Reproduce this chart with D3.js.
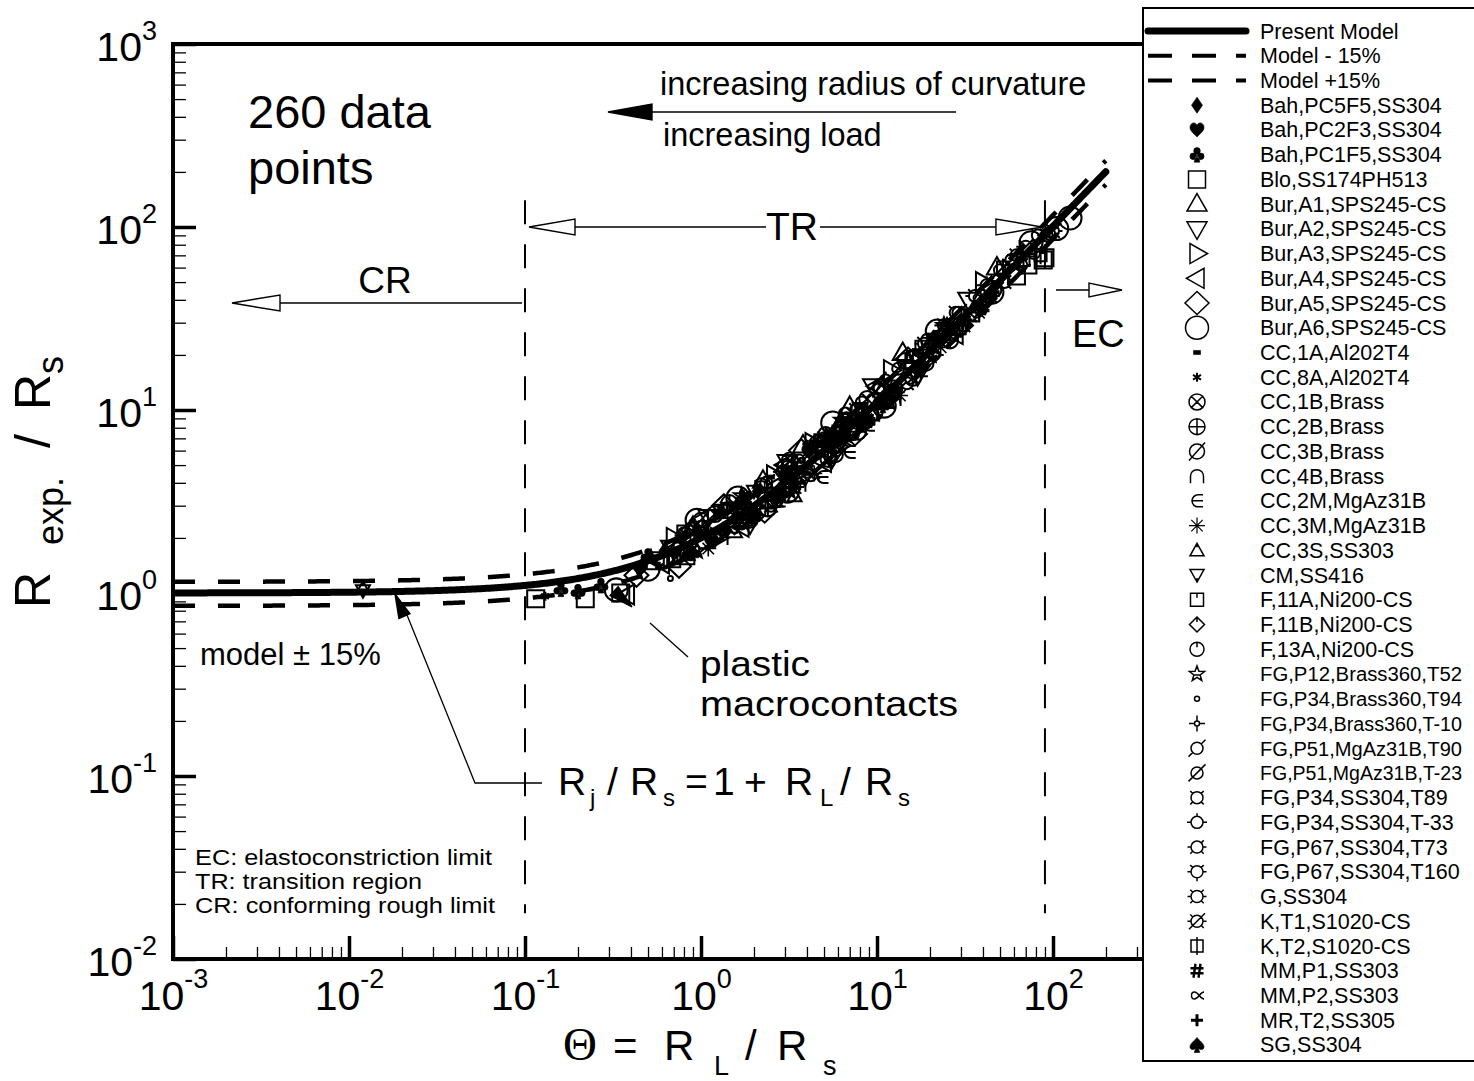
<!DOCTYPE html>
<html>
<head>
<meta charset="utf-8">
<script src="https://cdn.jsdelivr.net/npm/d3@7"></script>
<style>
  body { margin: 0; background: #fff; }
  svg { display: block; }
  text { font-family: "Liberation Sans", Arial, Helvetica, sans-serif; fill: #000; }
</style>
</head>
<body>
<svg id="chart" width="1474" height="1081"></svg>
<script>
// ---- Data: measured R_exp/R_s against Theta = R_L/R_s for each data set ----
const seriesNames = [
  "Bah,PC5F5,SS304", "Bah,PC2F3,SS304", "Bah,PC1F5,SS304", "Blo,SS174PH513",
  "Bur,A1,SPS245-CS", "Bur,A2,SPS245-CS", "Bur,A3,SPS245-CS", "Bur,A4,SPS245-CS",
  "Bur,A5,SPS245-CS", "Bur,A6,SPS245-CS", "CC,1A,Al202T4", "CC,8A,Al202T4",
  "CC,1B,Brass", "CC,2B,Brass", "CC,3B,Brass", "CC,4B,Brass",
  "CC,2M,MgAz31B", "CC,3M,MgAz31B", "CC,3S,SS303", "CM,SS416",
  "F,11A,Ni200-CS", "F,11B,Ni200-CS", "F,13A,Ni200-CS", "FG,P12,Brass360,T52",
  "FG,P34,Brass360,T94", "FG,P34,Brass360,T-10", "FG,P51,MgAz31B,T90", "FG,P51,MgAz31B,T-23",
  "FG,P34,SS304,T89", "FG,P34,SS304,T-33", "FG,P67,SS304,T73", "FG,P67,SS304,T160",
  "G,SS304", "K,T1,S1020-CS", "K,T2,S1020-CS", "MM,P1,SS303",
  "MM,P2,SS303", "MR,T2,SS305", "SG,SS304"
];

// [Theta, R_exp/R_s]
const seriesData = [
  [[0.62,1.7],[0.95,2.2],[1.4,2.2],[2.1,3.6],[3.3,4.0],[5.2,7.2],[8.4,8.6]],
  [[0.45,1.35],[0.78,2.0],[1.15,1.9],[1.8,3.3],[2.7,3.3],[4.1,5.9],[6.5,6.9]],
  [[0.16,1.05],[0.2,1.02],[0.27,1.1],[0.5,1.6],[0.85,1.65],[1.3,2.8],[2.0,2.6]],
  [[0.115,0.93],[0.22,0.93],[0.35,1.0],[0.55,1.5],[0.82,1.6],[0.82,2.1],[62,54],[72,62],[88,66],[90,68]],
  [[0.9,2.3],[1.5,2.2],[2.25,4.1],[3.8,6.4],[7.0,10.4],[14,20.5],[25,28],[48,60]],
  [[1.1,2.6],[1.9,2.4],[3.1,5.2],[5.5,5.4],[9.5,13.5],[17,15.5],[33,40]],
  [[0.7,2.0],[1.25,2.0],[2.6,4.4],[4.3,6.6],[6.2,6.4],[12,16.5],[20,20],[40,50]],
  [[0.38,0.98],[0.6,1.45],[1.0,2.5],[1.7,2.3],[3.0,5.0],[5.0,5.2],[10,13.5],[28,26]],
  [[0.43,1.25],[0.75,1.4],[1.35,3.0],[2.3,2.8],[3.7,6.0],[7.5,7.4],[15,19],[30,29]],
  [[0.33,1.04],[0.5,1.35],[0.95,2.5],[1.62,3.3],[3.1,3.6],[5.6,8.5],[11,10.5],[22,27],[45,44],[75,82],[105,98],[125,112]],
  [[0.9,2.1],[1.6,2.3],[2.5,4.3],[4.0,4.5],[6.8,9.0],[13,12.5]],
  [[0.13,0.96],[0.58,1.4],[1.1,2.15],[2.0,2.8],[3.5,4.8],[6.0,6.6]],
  [[1.2,2.7],[2.1,2.8],[3.2,5.3],[5.3,5.4],[8.8,11.5],[16,15]],
  [[0.7,1.75],[1.45,3.1],[2.4,2.9],[4.6,6.6],[7.8,7.6],[14.5,18.5],[26,24]],
  [[1.0,2.5],[1.9,2.5],[3.0,4.9],[5.8,5.7],[10.5,13.5],[19,18]],
  [[0.8,2.1],[1.3,2.0],[2.2,3.9],[3.6,3.9],[6.6,9.5],[12.5,11.5]],
  [[1.5,2.3],[2.8,3.2],[4.9,4.3],[7.0,5.9],[9.0,8.3],[18,16.5]],
  [[1.1,1.75],[2.3,3.7],[4.4,4.5],[7.2,9.6],[13.5,12],[23,22],[38,34]],
  [[0.012,1.06],[0.9,2.3],[1.8,2.5],[3.4,3.4],[6.1,8.6],[11.5,11]],
  [[0.012,1.03],[0.65,1.8],[1.2,1.95],[2.0,3.6],[3.9,4.2],[8.0,10.2]],
  [[0.7,1.5],[1.3,2.8],[2.6,3.2],[4.8,6.8],[9.2,9.5],[18,22],[35,33]],
  [[0.85,2.2],[1.55,2.3],[2.9,4.6],[5.9,6.0],[10.2,13.2],[21,20]],
  [[0.75,1.6],[1.4,2.8],[2.75,3.4],[5.1,7.4],[9.8,9.6],[19.5,24],[37,35]],
  [[0.52,1.55],[0.95,1.7],[1.7,3.4],[3.2,3.6],[6.3,8.8],[11.8,11],[24,29]],
  [[0.67,1.2],[1.05,2.4],[1.9,2.6],[3.7,5.3],[7.4,7.1],[14,17.5]],
  [[0.95,1.75],[1.75,3.3],[3.3,3.8],[6.4,8.6],[12,11.6],[23,27]],
  [[1.2,2.0],[2.35,4.0],[4.2,4.4],[8.2,11],[15.5,15],[29,34],[47,45]],
  [[1.0,2.3],[2.0,2.7],[3.6,5.3],[7.3,7.4],[13.2,16.8],[26,25],[50,58]],
  [[2.2,3.8],[4.0,4.6],[7.6,10],[14.8,14],[28,34],[53,50],[82,90]],
  [[1.7,2.4],[3.1,4.9],[6.0,6.4],[11.2,14.5],[21,20],[42,48],[78,72]],
  [[2.5,3.0],[4.7,6.8],[8.6,8.8],[16.5,20],[31,29],[58,66],[95,92]],
  [[2.9,4.6],[5.4,5.6],[10.3,13],[19.5,19],[36,42],[66,62],[92,90]],
  [[1.4,2.9],[2.7,3.2],[5.0,7.0],[9.5,9.4],[18.5,23],[34,33],[62,70]],
  [[3.4,3.8],[6.7,9.0],[12.7,12.5],[24,29],[44,42],[70,78],[100,95]],
  [[4.5,6.3],[8.3,8.6],[16,19.5],[29.5,28],[52,60],[68,66],[85,70]],
  [[1.65,2.6],[3.0,4.3],[4.1,6.3],[6.0,7.9],[9.0,8.7],[17.5,17],[32,30],[40,36]],
  [[2.8,3.5],[5.7,6.3],[10.8,11.2],[20,19],[38,41],[60,60]],
  [[1.8,3.1],[3.5,4.0],[6.9,8.9],[13,13],[25,29],[46,44]],
  [[0.9,1.65],[1.6,3.0],[2.9,3.5],[5.6,7.5],[10.8,10.6],[21,25],[44,42]]
];

// Model R_j/R_s = 1 + R_L/R_s and its +/-15% band
const modelNames = ["Present Model", "Model - 15%", "Model +15%"];
const modelFactors = [1, 0.85, 1.15];
const thetaRange = [1e-3, 200];
const limitTheta = { TR: 0.1, EC: 90 };

// ---- Scales ----
const svg = d3.select("#chart");
const x = d3.scaleLog().domain([1e-3, 1e3]).range([173, 1229]);
const y = d3.scaleLog().domain([1e-2, 1e3]).range([959, 44]);
const FONT = '"Liberation Sans", Arial, Helvetica, sans-serif';

// ---- Marker shapes ----
const circ = (r, cx = 0, cy = 0) =>
  `M${cx + r},${cy}A${r},${r} 0 1,1 ${cx - r},${cy}A${r},${r} 0 1,1 ${cx + r},${cy}Z`;
const seg = (x1, y1, x2, y2) => `M${x1},${y1}L${x2},${y2}`;
const ray = (r1, r2, deg) => {
  const a = deg * Math.PI / 180;
  return seg(r1 * Math.cos(a), -r1 * Math.sin(a), r2 * Math.cos(a), -r2 * Math.sin(a));
};
const rays = (r1, r2, degs) => degs.map(d => ray(r1, r2, d)).join("");
const star5 = (ro, ri) => {
  let p = "";
  for (let k = 0; k < 10; k++) {
    const a = (-90 + k * 36) * Math.PI / 180, r = k % 2 ? ri : ro;
    p += (k ? "L" : "M") + (r * Math.cos(a)).toFixed(2) + "," + (r * Math.sin(a)).toFixed(2);
  }
  return p + "Z";
};

const markers = [
  { d: "M0,-8L5.5,0L0,8L-5.5,0Z", fill: true },
  { d: "M0,7C-2,4.5 -7,1.5 -7,-2.5C-7,-5.5 -5,-7 -3.2,-7C-1.6,-7 -0.5,-6 0,-4.5C0.5,-6 1.6,-7 3.2,-7C5,-7 7,-5.5 7,-2.5C7,1.5 2,4.5 0,7Z", fill: true },
  { d: circ(3.3, 0, -3.8) + circ(3.3, -3.8, 1.7) + circ(3.3, 3.8, 1.7) + "M-0.8,0L-2.8,7.5L2.8,7.5L0.8,0Z", fill: true },
  { d: "M-8.5,-8.5H8.5V8.5H-8.5Z" },
  { d: "M0,-10.5L10,7L-10,7Z" },
  { d: "M0,10.5L10,-7L-10,-7Z" },
  { d: "M10.5,0L-7,10L-7,-10Z" },
  { d: "M-10.5,0L7,10L7,-10Z" },
  { d: "M0,-11.5L12,0L0,11.5L-12,0Z" },
  { d: circ(11.5) },
  { d: "M-3.5,-2H3.5V2H-3.5Z", fill: true },
  { d: seg(0, -4.5, 0, 4.5) + seg(-4, -2.3, 4, 2.3) + seg(-4, 2.3, 4, -2.3), sw: 2 },
  { d: circ(8) + seg(-5.7, -5.7, 5.7, 5.7) + seg(-5.7, 5.7, 5.7, -5.7) },
  { d: circ(8) + seg(-8, 0, 8, 0) + seg(0, -8, 0, 8) },
  { d: circ(7.5) + seg(-8, 9, 8, -9) },
  { d: "M-6.5,7V0A6.5,6.5 0 0,1 6.5,0V7" },
  { d: "M6,-6H1A6,6 0 0,0 1,6H6M-5,0H6" },
  { d: seg(0, -8, 0, 8) + seg(-8, 0, 8, 0) + seg(-5.7, -5.7, 5.7, 5.7) + seg(-5.7, 5.7, 5.7, -5.7), sw: 1.2 },
  { d: "M0,-7L7,5.5L-7,5.5Z" + seg(0, -7, 0, -3) },
  { d: "M0,7L7,-5.5L-7,-5.5Z" + seg(0, 7, 0, 3) },
  { d: "M-6.5,-6.5H6.5V6.5H-6.5Z" + seg(0, -6.5, 0, -2) },
  { d: "M0,-7.5L7.5,0L0,7.5L-7.5,0Z" + seg(0, -7.5, 0, -2.5) },
  { d: circ(7) + seg(0, -7, 0, -2) },
  { d: star5(8, 3.3) + seg(-4, 1, 4, 1) },
  { d: circ(2.5) },
  { d: seg(-8, 0, -2.5, 0) + seg(2.5, 0, 8, 0) + seg(0, -8, 0, -2.5) + seg(0, 2.5, 0, 8) + circ(2.5) },
  { d: circ(6) + seg(4.2, -4.2, 8.5, -8.5) + seg(-4.2, 4.2, -8.5, 8.5) },
  { d: circ(6) + seg(-8.5, 8.5, 8.5, -8.5) },
  { d: circ(6) + rays(6, 9.5, [45, 135, 225, 315]) },
  { d: circ(6) + rays(6, 10, [0, 180]) + ray(6, 9, 90) },
  { d: circ(6) + rays(6, 9.5, [0, 180, 225, 315, 45]) },
  { d: circ(6) + rays(6, 9.5, [0, 180, 45, 135, 270]) },
  { d: circ(6) + rays(6, 9.5, [0, 180, 45, 135, 225, 315]) },
  { d: circ(6) + rays(6, 9.5, [0, 180, 45, 135, 225, 315]) + seg(-8, 8, 8, -8) },
  { d: "M-6,-6H6V6H-6Z" + seg(0, -9, 0, 9) },
  { d: seg(-1.5, -7, -3.5, 7) + seg(3.5, -7, 1.5, 7) + seg(-6.5, -2.5, 6.5, -2.5) + seg(-6.5, 2.5, 6.5, 2.5), sw: 2.4 },
  { d: "M7,-3.5C3,-3.5 1.5,3.5 -2.5,3.5C-6.5,3.5 -6.5,-3.5 -2.5,-3.5C1.5,-3.5 3,3.5 7,3.5", sw: 1.4 },
  { d: seg(-6, 0, 6, 0) + seg(0, -6, 0, 6), sw: 3 },
  { d: "M0,-7.5C-2.5,-4 -7,-1.5 -7,2C-7,4.8 -3.5,5.5 -1.2,3.2L-2.8,7.5H2.8L1.2,3.2C3.5,5.5 7,4.8 7,2C7,-1.5 2.5,-4 0,-7.5Z", fill: true }
];

function drawMarker(g, m, px, py, swScale) {
  g.append("path")
    .attr("d", m.d)
    .attr("transform", `translate(${px},${py})`)
    .attr("fill", m.fill ? "#000" : "none")
    .attr("stroke", "#000")
    .attr("stroke-width", (m.fill ? 0.6 : (m.sw || 1.5)) * swScale)
    .attr("stroke-linecap", "butt");
}

function arrowHead(g, tx, ty, dx, dy, len, half, filled) {
  const n = Math.hypot(dx, dy), ux = dx / n, uy = dy / n;
  const bx = tx - ux * len, by = ty - uy * len;
  const pts = [[tx, ty], [bx - uy * half, by + ux * half], [bx + uy * half, by - ux * half]];
  g.append("path")
    .attr("d", "M" + pts.map(p => p.join(",")).join("L") + "Z")
    .attr("fill", filled ? "#000" : "#fff")
    .attr("stroke", "#000")
    .attr("stroke-width", 1.4)
    .attr("stroke-linejoin", "miter");
}

// ---- Axes (ticks point inward) ----
const isPow10 = v => Math.abs(Math.log10(v) - Math.round(Math.log10(v))) < 1e-9;
const xMajor = x.ticks().filter(isPow10);
const xMinor = x.ticks().filter(v => !isPow10(v));
const yMajor = y.ticks().filter(isPow10);
const yMinor = y.ticks().filter(v => !isPow10(v));

function powerLabels(sel, supDy) {
  sel.each(function (d) {
    const t = d3.select(this);
    const e = Math.round(Math.log10(d));
    t.text(null);
    t.append("tspan").text("10");
    t.append("tspan").attr("font-size", 27).attr("dy", supDy).text(String(e));
  });
}

const gxMinor = svg.append("g").attr("transform", "translate(0,959)")
  .call(d3.axisBottom(x).tickValues(xMinor).tickSizeInner(-12).tickSizeOuter(0).tickFormat(""));
const gxMajor = svg.append("g").attr("transform", "translate(0,959)")
  .call(d3.axisBottom(x).tickValues(xMajor).tickSizeInner(-23).tickSizeOuter(0));
const gyMinor = svg.append("g").attr("transform", "translate(173,0)")
  .call(d3.axisLeft(y).tickValues(yMinor).tickSizeInner(-13).tickSizeOuter(0).tickFormat(""));
const gyMajor = svg.append("g").attr("transform", "translate(173,0)")
  .call(d3.axisLeft(y).tickValues(yMajor).tickSizeInner(-23).tickSizeOuter(0));

[gxMinor, gxMajor, gyMinor, gyMajor].forEach(g => g.select(".domain").remove());
[gxMinor, gyMinor].forEach(g => g.selectAll(".tick line").attr("stroke", "#000").attr("stroke-width", 1.3));
[gxMajor, gyMajor].forEach(g => g.selectAll(".tick line").attr("stroke", "#000").attr("stroke-width", 3.5));

gxMajor.attr("font-size", 41).attr("font-family", FONT);
gxMajor.selectAll(".tick text").attr("y", 51).attr("dy", null).attr("fill", "#000")
  .call(powerLabels, -22);
gyMajor.attr("font-size", 41).attr("font-family", FONT);
gyMajor.selectAll(".tick text").attr("x", -16).attr("y", 16).attr("dy", null).attr("fill", "#000")
  .attr("text-anchor", "end").call(powerLabels, -21);

// Frame
svg.append("rect")
  .attr("x", x(1e-3)).attr("y", y(1e3))
  .attr("width", x(1e3) - x(1e-3)).attr("height", y(1e-2) - y(1e3))
  .attr("fill", "none").attr("stroke", "#000").attr("stroke-width", 4);

// ---- Regime limits and annotations ----
const ann = svg.append("g");
[limitTheta.TR, limitTheta.EC].forEach(t => {
  ann.append("line")
    .attr("x1", x(t)).attr("x2", x(t)).attr("y1", y(140)).attr("y2", y(0.0178))
    .attr("stroke", "#000").attr("stroke-width", 2).attr("stroke-dasharray", "24,20");
});

// TR double arrow
const trY = y(100);
ann.append("line").attr("x1", x(limitTheta.TR) + 48).attr("x2", 766).attr("y1", trY).attr("y2", trY).attr("stroke", "#000").attr("stroke-width", 1.4);
ann.append("line").attr("x1", 820).attr("x2", x(limitTheta.EC) - 48).attr("y1", trY).attr("y2", trY).attr("stroke", "#000").attr("stroke-width", 1.4);
arrowHead(ann, x(limitTheta.TR) + 4, trY, -1, 0, 46, 8, false);
arrowHead(ann, x(limitTheta.EC) - 3, trY, 1, 0, 46, 8, false);
ann.append("text").attr("x", 792).attr("y", 240).attr("font-size", 39).attr("text-anchor", "middle").text("TR");

// CR arrow
const crY = 303;
ann.append("line").attr("x1", x(limitTheta.TR) - 3).attr("x2", 280).attr("y1", crY).attr("y2", crY).attr("stroke", "#000").attr("stroke-width", 1.4);
arrowHead(ann, 232, crY, -1, 0, 48, 8, false);
ann.append("text").attr("x", 385).attr("y", 293).attr("font-size", 37).attr("text-anchor", "middle").text("CR");

// EC arrow
const ecY = 290;
ann.append("line").attr("x1", 1056).attr("x2", 1090).attr("y1", ecY).attr("y2", ecY).attr("stroke", "#000").attr("stroke-width", 1.4);
arrowHead(ann, 1122, ecY, 1, 0, 33, 7, false);
ann.append("text").attr("x", 1072).attr("y", 347).attr("font-size", 38).text("EC");

// Direction arrow
ann.append("text").attr("x", 660).attr("y", 95).attr("font-size", 32.5).text("increasing radius of curvature");
ann.append("text").attr("x", 663).attr("y", 146).attr("font-size", 32.5).text("increasing load");
ann.append("line").attr("x1", 650).attr("x2", 956).attr("y1", 112).attr("y2", 112).attr("stroke", "#000").attr("stroke-width", 1.4);
arrowHead(ann, 608, 112, -1, 0, 44, 8, true);

// Count
ann.append("text").attr("x", 248).attr("y", 128).attr("font-size", 47).text("260 data");
ann.append("text").attr("x", 248).attr("y", 184).attr("font-size", 47).text("points");

// model +/- 15%
ann.append("text").attr("x", 200).attr("y", 665).attr("font-size", 31).text("model \u00B1 15%");

// Equation with leader
ann.append("path").attr("d", "M542,783H475L407,615").attr("fill", "none").attr("stroke", "#000").attr("stroke-width", 1.3);
arrowHead(ann, 395, 594, -80, -187, 24, 6, true);
const eq = ann.append("text").attr("font-size", 39).attr("y", 795);
[["R", 558, 0], ["j", 590, 1], ["/", 607, 0], ["R", 630, 0], ["s", 663, 1], ["=", 685, 0], ["1", 713, 0],
 ["+", 744, 0], ["R", 785, 0], ["L", 820, 1], ["/", 840, 0], ["R", 865, 0], ["s", 898, 1]].forEach(p => {
  eq.append("tspan").attr("x", p[1]).attr("y", p[2] ? 806 : 795).attr("font-size", p[2] ? 24 : 39).text(p[0]);
});

// plastic macrocontacts
ann.append("text").attr("x", 700).attr("y", 676).attr("font-size", 35)
  .attr("textLength", 110).attr("lengthAdjust", "spacingAndGlyphs").text("plastic");
ann.append("text").attr("x", 700).attr("y", 716).attr("font-size", 35)
  .attr("textLength", 258).attr("lengthAdjust", "spacingAndGlyphs").text("macrocontacts");
ann.append("line").attr("x1", 688).attr("y1", 657).attr("x2", 650).attr("y2", 623).attr("stroke", "#000").attr("stroke-width", 1.3);
arrowHead(ann, 632, 607, 56, 50, 24, 6, true);

// Regime key
[["EC: elastoconstriction limit", 865, 297], ["TR: transition region", 889, 227], ["CR: conforming rough limit", 913, 300]].forEach(r => {
  ann.append("text").attr("x", 195).attr("y", r[1]).attr("font-size", 21.5)
    .attr("textLength", r[2]).attr("lengthAdjust", "spacingAndGlyphs").text(r[0]);
});

// ---- Model curves and data ----
const clipId = "plotClip";
svg.append("clipPath").attr("id", clipId).append("rect")
  .attr("x", x(1e-3)).attr("y", y(1e3)).attr("width", x(1e3) - x(1e-3)).attr("height", y(1e-2) - y(1e3));
const plot = svg.append("g").attr("clip-path", `url(#${clipId})`);

const thetaSamples = d3.range(Math.log10(thetaRange[0]), Math.log10(thetaRange[1]) + 1e-9, 0.01)
  .map(e => 10 ** e);
const line = d3.line().x(d => x(d[0])).y(d => y(d[1]));

const markG = plot.append("g");
seriesData.forEach((pts, i) => {
  pts.forEach(p => drawMarker(markG, markers[i], x(p[0]), y(p[1]), 1.35));
});

modelFactors.forEach((f, i) => {
  plot.append("path")
    .attr("d", line(thetaSamples.map(t => [t, f * (1 + t)])))
    .attr("fill", "none").attr("stroke", "#000")
    .attr("stroke-width", i === 0 ? 7 : 4.5)
    .attr("stroke-linecap", i === 0 ? "round" : "butt")
    .attr("stroke-dasharray", i === 0 ? null : "22,23");
});

// ---- Axis titles ----
const yt = svg.append("text").attr("transform", "translate(50,608) rotate(-90)").attr("font-size", 50);
yt.append("tspan").attr("x", 0).attr("y", 0).text("R");
yt.append("tspan").attr("x", 63).attr("y", 13).attr("font-size", 36).text("exp.");
yt.append("tspan").attr("x", 160).attr("y", 0).text("/");
yt.append("tspan").attr("x", 198).attr("y", 0).text("R");
yt.append("tspan").attr("x", 234).attr("y", 13).attr("font-size", 36).text("s");

const xt = svg.append("text").attr("font-size", 42).attr("y", 1060);
xt.append("tspan").attr("x", 563).attr("font-family", '"Liberation Serif", "Times New Roman", serif').attr("font-size", 47).text("\u0398");
xt.append("tspan").attr("x", 613).text("=");
xt.append("tspan").attr("x", 664).text("R");
xt.append("tspan").attr("x", 714).attr("y", 1075).attr("font-size", 27).text("L");
xt.append("tspan").attr("x", 745).attr("y", 1060).text("/");
xt.append("tspan").attr("x", 777).text("R");
xt.append("tspan").attr("x", 823).attr("y", 1075).attr("font-size", 27).text("s");

// ---- Legend ----
const lg = svg.append("g");
lg.append("rect").attr("x", 1143).attr("y", 8).attr("width", 345).attr("height", 1053)
  .attr("fill", "#fff").attr("stroke", "#000").attr("stroke-width", 2);
const rowY = i => 31 + i * 24.73;
const labelX = 1260, labelMaxW = 1462 - 1260;
const legendNames = modelNames.concat(seriesNames);
legendNames.forEach((name, i) => {
  const cy = rowY(i);
  if (i < modelNames.length) {
    lg.append("line").attr("x1", 1148).attr("x2", 1246).attr("y1", cy).attr("y2", cy)
      .attr("stroke", "#000").attr("stroke-width", i === 0 ? 7 : 4)
      .attr("stroke-linecap", i === 0 ? "round" : "butt")
      .attr("stroke-dasharray", i === 0 ? null : "24,20");
  } else {
    drawMarker(lg, markers[i - modelNames.length], 1197, cy, 1);
  }
  const t = lg.append("text").attr("x", labelX).attr("y", cy + 7.5).attr("font-size", 21.5).text(name);
  // keep long labels inside the window
  if (t.node().getComputedTextLength() > labelMaxW) {
    t.attr("font-size", 20).attr("textLength", labelMaxW).attr("lengthAdjust", "spacingAndGlyphs");
  }
});
</script>
</body>
</html>
